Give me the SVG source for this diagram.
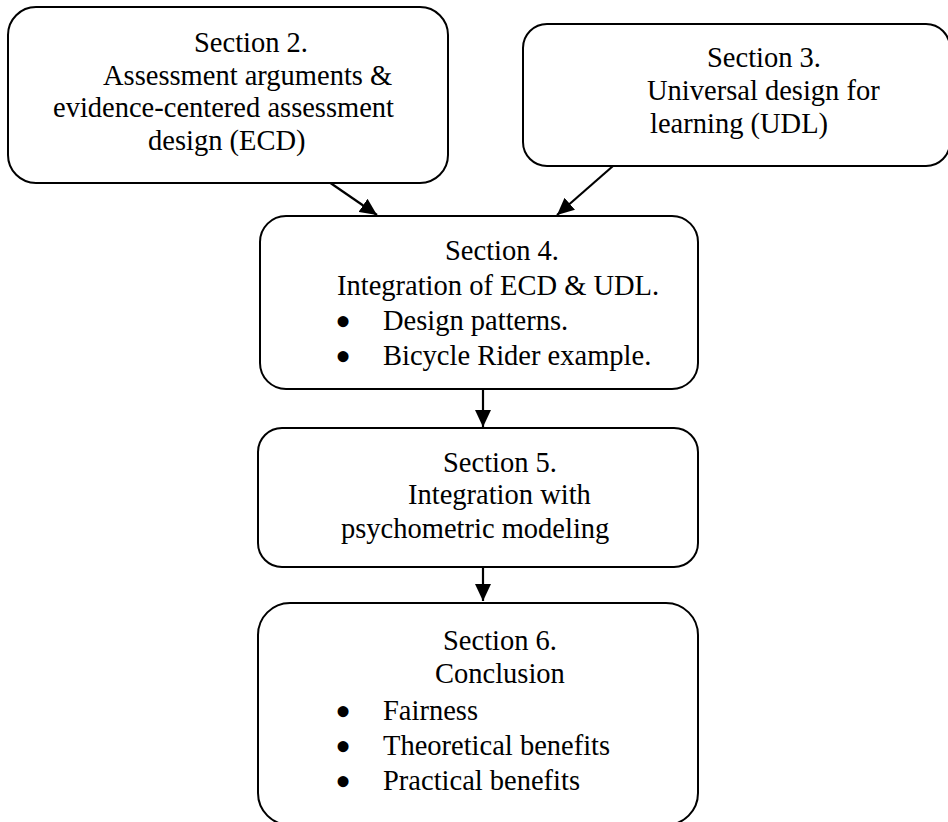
<svg xmlns="http://www.w3.org/2000/svg" width="948" height="822" viewBox="0 0 948 822">
<style>
.box{fill:#fff;stroke:#000;stroke-width:2}
.t{font-family:"Liberation Serif","Times New Roman",serif;font-size:28.5px;fill:#000}
.b{font-size:46px}
.c{stroke:#000;stroke-width:2.2;fill:none}
</style>
<defs>
<marker id="ah" markerUnits="userSpaceOnUse" markerWidth="18" markerHeight="16" refX="17" refY="8" orient="auto">
<path d="M0,0 L17,8 L0,16 Z" fill="#000"/>
</marker>
</defs>
<rect width="948" height="822" fill="#fff"/>
<g id="connectors">
<line class="c" x1="329" y1="182" x2="377" y2="215" marker-end="url(#ah)"/>
<line class="c" x1="613" y1="166" x2="557" y2="215" marker-end="url(#ah)"/>
<line class="c" x1="483" y1="389" x2="483" y2="427" marker-end="url(#ah)"/>
<line class="c" x1="483" y1="564" x2="483" y2="601" marker-end="url(#ah)"/>
</g>
<g id="section2">
<rect class="box" x="8" y="7" width="440" height="176" rx="28"/>
<text class="t" x="194" y="52">Section 2.</text>
<text class="t" x="103" y="85">Assessment arguments &amp;</text>
<text class="t" x="53" y="117">evidence-centered assessment</text>
<text class="t" x="148" y="150">design (ECD)</text>
</g>
<g id="section3">
<rect class="box" x="523" y="24" width="427" height="142" rx="24"/>
<text class="t" x="707" y="67">Section 3.</text>
<text class="t" x="647" y="100">Universal design for</text>
<text class="t" x="650" y="133">learning (UDL)</text>
</g>
<g id="section4">
<rect class="box" x="260" y="216" width="438" height="173" rx="26"/>
<text class="t" x="445" y="260">Section 4.</text>
<text class="t" x="337" y="295">Integration of ECD &amp; UDL.</text>
<text class="t"><tspan class="b" x="335" y="337">•</tspan><tspan x="383" y="330">Design patterns.</tspan></text>
<text class="t"><tspan class="b" x="335" y="372">•</tspan><tspan x="383" y="365">Bicycle Rider example.</tspan></text>
</g>
<g id="section5">
<rect class="box" x="258" y="428" width="440" height="139" rx="24"/>
<text class="t" x="443" y="472">Section 5.</text>
<text class="t" x="408" y="504">Integration with</text>
<text class="t" x="341" y="538">psychometric modeling</text>
</g>
<g id="section6">
<rect class="box" x="258" y="603" width="440" height="222" rx="32"/>
<text class="t" x="443" y="650">Section 6.</text>
<text class="t" x="435" y="683">Conclusion</text>
<text class="t"><tspan class="b" x="335" y="727">•</tspan><tspan x="383" y="720">Fairness</tspan></text>
<text class="t"><tspan class="b" x="335" y="762">•</tspan><tspan x="383" y="755">Theoretical benefits</tspan></text>
<text class="t"><tspan class="b" x="335" y="797">•</tspan><tspan x="383" y="790">Practical benefits</tspan></text>
</g>
</svg>
